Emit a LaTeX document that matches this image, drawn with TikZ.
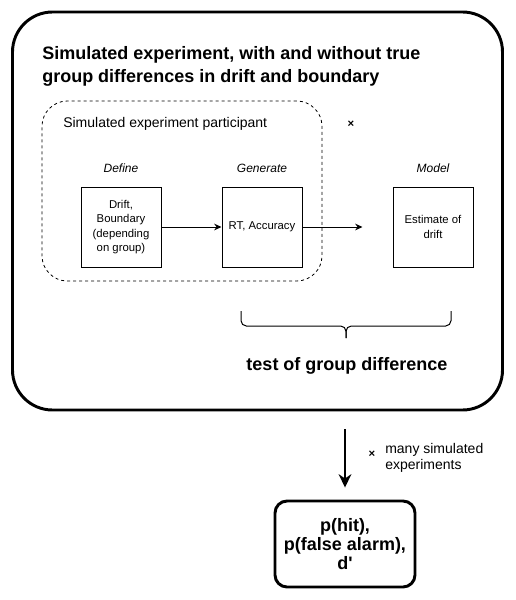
\documentclass[tikz,border=0pt]{standalone}
\usepackage{fontspec}
\setmainfont{Liberation Sans}
\usetikzlibrary{positioning,arrows.meta}

\begin{document}
\begin{tikzpicture}[
  x=0.75pt, y=-0.75pt,
  frame/.style={
    draw,
    line width=2.2pt,
    rounded corners=30pt,
  },
  group/.style={
    draw,
    dash pattern=on 2.25pt off 2.25pt,
    line width=0.6pt,
    rounded corners=19pt,
  },
  box/.style={
    draw,
    line width=0.75pt,
    minimum width=60pt,
    minimum height=60pt,
    align=center,
    font=\fontsize{8.5}{10.7}\selectfont,
  },
  stage/.style={
    inner sep=0pt,
    font=\fontsize{9}{11}\selectfont\itshape,
  },
  heading/.style={
    inner sep=0pt,
    align=left,
    font=\fontsize{13.5}{16.8}\selectfont\bfseries,
  },
  result/.style={
    draw,
    line width=2.2pt,
    rounded corners=9pt,
    minimum width=105pt,
    minimum height=64.5pt,
    align=center,
    font=\fontsize{13.5}{14.5}\selectfont\bfseries,
  },
  times/.style={
    inner sep=0pt,
    font=\fontsize{8.5}{8.5}\selectfont\bfseries,
  },
  flow/.style={
    line width=0.75pt,
    -{Stealth[length=5.5pt,width=5pt]},
  },
  bigflow/.style={
    line width=2.2pt,
    -{Stealth[length=10pt,width=9.5pt]},
  },
  brace/.style={
    line width=0.75pt,
    rounded corners=4pt,
  }]
  \useasboundingbox (0,0) rectangle (516,600);

  % simulated experiment
  \node[frame, minimum width=367.5pt, minimum height=298.5pt] (exp) at (257.5,211) {};
  \node[heading, anchor=north west] (title) at (42,46.5)
    {Simulated experiment, with and without true\\group differences in drift and boundary};

  % one participant
  \node[group, minimum width=210pt, minimum height=135pt] (part) at (182,191) {};
  \node[anchor=west, inner sep=0pt, font=\fontsize{10.5}{12}\selectfont] (partlabel) at (63,124)
    {Simulated experiment participant};
  \node[times] (times1) at (351,124) {×};

  \node[box] (drift) at (121,227) {Drift,\\Boundary\\(depending\\on group)};
  \node[box, right=45pt of drift] (rt) {RT, Accuracy};
  \node[box, right=67.5pt of rt] (est) {Estimate of\\drift};

  \node[stage, above=10.5pt of drift] (define) {Define};
  \node[stage, above=10.5pt of rt] (generate) {Generate};
  \node[stage, above=10.5pt of est] (model) {Model};

  \coordinate[right=45pt of rt.east] (gap);
  \draw[flow] (drift) -- (rt);
  \draw[flow] (rt) -- (gap);

  % group test
  \draw[brace] (241,311) -- (241,326) -- (346,326) -- (346,338);
  \draw[brace] (451,311) -- (451,326) -- (346,326) -- (346,338);
  \node[heading] (test) at (347,366) {test of group difference};

  % over many experiments
  \node[result] (res) at (345,544) {p(hit),\\p(false alarm),\\d\textquotesingle};
  \coordinate (tail) at ([yshift=-13.5pt]exp.south -| res.north);
  \draw[bigflow] (tail) -- ([yshift=9pt]res.north);
  \node[times] (times2) at (372,454) {×};
  \node[anchor=west, inner sep=0pt, align=left, font=\fontsize{10.5}{12}\selectfont] (many) at (385,458)
    {many simulated\\experiments};
\end{tikzpicture}
\end{document}
